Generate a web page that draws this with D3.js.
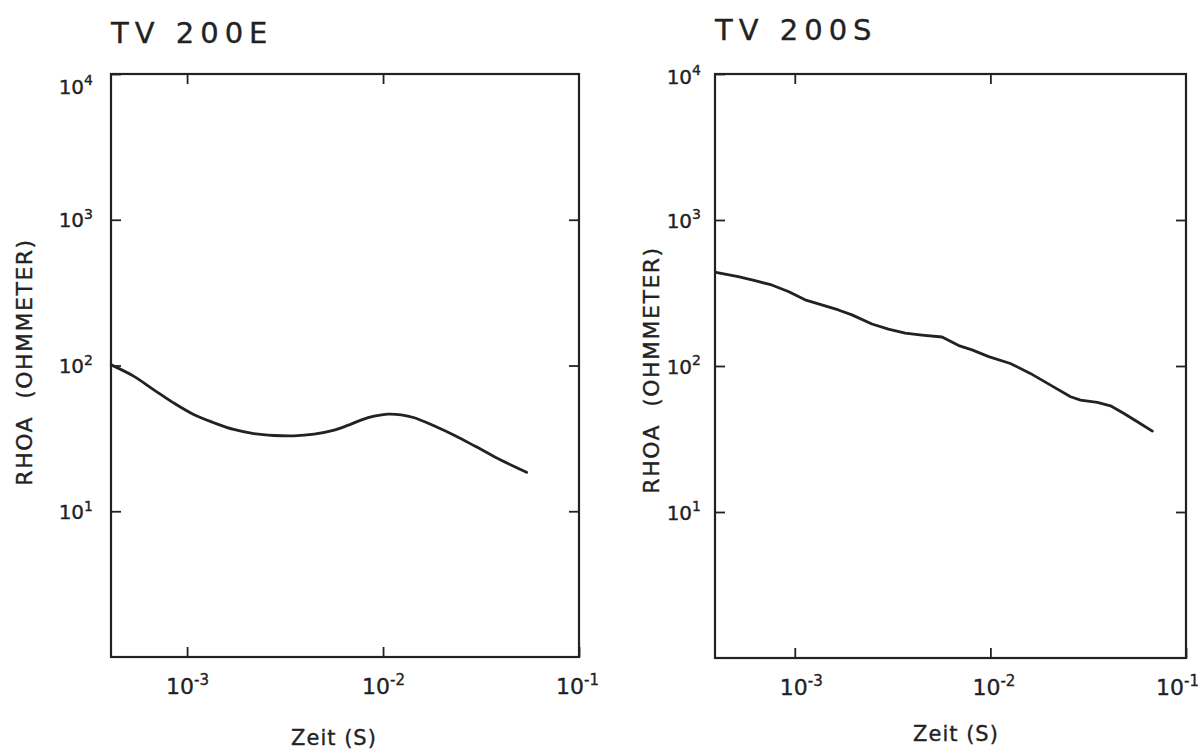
<!DOCTYPE html>
<html>
<head>
<meta charset="utf-8">
<script src="https://cdn.jsdelivr.net/npm/d3@7"></script>
<style>
  html, body { margin: 0; padding: 0; background: #ffffff; }
  svg { display: block; }
  text { font-family: "DejaVu Sans", "Liberation Sans", sans-serif; fill: #222; stroke: #222; stroke-width: 0.35px; }
</style>
</head>
<body>
<svg id="chart" width="1198" height="750"></svg>
<script>
// ---- data ----
const leftTitle = "TV 200E";
const rightTitle = "TV 200S";
const yAxisLabel = "RHOA  (OHMMETER)";
const xAxisLabel = "Zeit (S)";

const xTickValues = [1e-3, 1e-2, 1e-1];
const xTickExponents = ["-3", "-2", "-1"];
const yTickValues = [10, 100, 1000, 10000];
const yTickExponents = ["1", "2", "3", "4"];

const leftTime = [4.1e-4, 5.33e-4, 6.74e-4, 8.53e-4, 1.08e-3, 1.37e-3, 1.73e-3, 2.19e-3, 2.77e-3, 3.51e-3,
  4.45e-3, 5.63e-3, 6.59e-3, 7.71e-3, 9.01e-3, 1.056e-2, 1.236e-2, 1.445e-2, 1.83e-2, 2.32e-2,
  2.94e-2, 3.72e-2, 4.70e-2, 5.40e-2];
const leftRhoa = [101, 84.6, 68.4, 55.4, 46.1, 40.5, 36.4, 34.1, 33.1, 32.9,
  33.8, 36.0, 38.8, 42.2, 44.9, 46.4, 45.9, 43.8, 38.4, 33.1,
  28.0, 23.6, 20.2, 18.5];

const rightTime = [3.95e-4, 5.14e-4, 6.26e-4, 7.62e-4, 9.27e-4, 1.129e-3, 1.374e-3, 1.671e-3, 1.96e-3, 2.48e-3,
  3.01e-3, 3.67e-3, 4.47e-3, 5.66e-3, 6.89e-3, 8.06e-3, 9.80e-3, 1.265e-2, 1.60e-2, 2.03e-2,
  2.57e-2, 2.89e-2, 3.52e-2, 4.11e-2, 4.82e-2, 5.64e-2, 6.73e-2];
const rightRhoa = [438, 410, 384, 359, 324, 284, 262, 242, 224, 194,
  179, 168, 163, 158, 138, 129, 116, 104, 89, 74,
  61.6, 58.4, 56.3, 53.4, 47.3, 41.5, 35.8];

// ---- layout ----
const panels = [
  { title: leftTitle, t: leftTime, r: leftRhoa, xMin: 4.09e-4,
    left: 111, right: 579, top: 74, bottom: 657,
    titleX: 111, titleY: 43, ylabX: 24, ylabY: 362, xlabX: 334, xlabY: 745,
    yPad: 18, topLabelShift: 12, xLabDx: [0, 0, -2], curve: d3.curveCatmullRom },
  { title: rightTitle, t: rightTime, r: rightRhoa, xMin: 3.91e-4,
    left: 715, right: 1186, top: 74, bottom: 658,
    titleX: 715, titleY: 40, ylabX: 651, ylabY: 370, xlabX: 956, xlabY: 741,
    yPad: 14, topLabelShift: 2, xLabDx: [6, 3, -9], curve: d3.curveLinear }
];

const svg = d3.select("#chart");
svg.append("rect").attr("width", 1198).attr("height", 750).attr("fill", "#ffffff");
const ink = "#222";

function supLabel(sel, exps, baseSize, supSize) {
  sel.each(function(d, i) {
    const t = d3.select(this);
    t.text(null);
    t.append("tspan").attr("font-size", baseSize).text("10");
    t.append("tspan").attr("font-size", supSize).attr("dy", "-0.6em").text(exps[i]);
  });
}

panels.forEach(p => {
  const x = d3.scaleLog().domain([p.xMin, 0.1]).range([p.left, p.right]);
  const y = d3.scaleLog().domain([1, 1e4]).range([p.bottom, p.top]);
  const g = svg.append("g");

  // title
  g.append("text").attr("x", p.titleX).attr("y", p.titleY)
    .attr("font-size", 29).attr("letter-spacing", 6).style("white-space", "pre").text(p.title);

  // bottom axis with labels
  const xb = g.append("g").attr("transform", `translate(0,${p.bottom})`)
    .call(d3.axisBottom(x).tickValues(xTickValues).tickSizeInner(-10).tickSizeOuter(0).tickPadding(21));
  xb.select(".domain").remove();
  xb.selectAll("line").attr("stroke", ink).attr("stroke-width", 1.8);
  xb.selectAll("text").attr("font-size", 22).attr("fill", ink)
    .attr("dx", (d, i) => p.xLabDx[i])
    .call(supLabel, xTickExponents, 22, 15);

  // top ticks
  const xt = g.append("g").attr("transform", `translate(0,${p.top})`)
    .call(d3.axisTop(x).tickValues(xTickValues.slice(0, 2)).tickSizeInner(-10).tickSizeOuter(0).tickFormat(""));
  xt.select(".domain").remove();
  xt.selectAll("line").attr("stroke", ink).attr("stroke-width", 1.8);

  // left axis with labels
  const yl = g.append("g").attr("transform", `translate(${p.left},0)`)
    .call(d3.axisLeft(y).tickValues(yTickValues).tickSizeInner(-10).tickSizeOuter(0).tickPadding(p.yPad));
  yl.select(".domain").remove();
  yl.selectAll("line").attr("stroke", ink).attr("stroke-width", 1.8);
  yl.selectAll("text").attr("font-size", 20).attr("fill", ink)
    .attr("dy", d => d === 1e4 ? (0.36 * 20 + p.topLabelShift) + "px" : "0.36em")
    .call(supLabel, yTickExponents, 20, 14);

  // right ticks
  const yr = g.append("g").attr("transform", `translate(${p.right},0)`)
    .call(d3.axisRight(y).tickValues(yTickValues.slice(0, 3)).tickSizeInner(-10).tickSizeOuter(0).tickFormat(""));
  yr.select(".domain").remove();
  yr.selectAll("line").attr("stroke", ink).attr("stroke-width", 1.8);

  // frame
  g.append("rect").attr("x", p.left).attr("y", p.top)
    .attr("width", p.right - p.left).attr("height", p.bottom - p.top)
    .attr("fill", "none").attr("stroke", ink).attr("stroke-width", 2.2);

  // axis titles
  g.append("text").attr("x", p.xlabX).attr("y", p.xlabY).attr("text-anchor", "middle")
    .attr("font-size", 21).attr("letter-spacing", 1).style("white-space", "pre").text(xAxisLabel);
  g.append("text").attr("transform", `translate(${p.ylabX},${p.ylabY}) rotate(-90)`)
    .attr("text-anchor", "middle").attr("dy", "0.36em")
    .attr("font-size", 22).attr("letter-spacing", 1.5).style("white-space", "pre").text(yAxisLabel);

  // curve
  const pts = p.t.map((t, i) => [t, p.r[i]]);
  const line = d3.line().x(d => x(d[0])).y(d => y(d[1])).curve(p.curve);
  g.append("path").datum(pts).attr("d", line)
    .attr("fill", "none").attr("stroke", ink).attr("stroke-width", 2.8)
    .attr("stroke-linejoin", "round").attr("stroke-linecap", "round");
});
</script>
</body>
</html>
